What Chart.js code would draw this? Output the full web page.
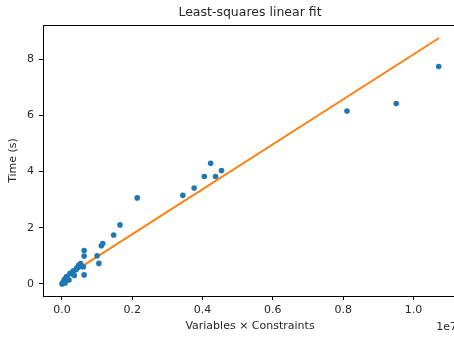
<!DOCTYPE html>
<html>
<head>
<meta charset="utf-8">
<script src="https://cdn.jsdelivr.net/npm/chart.js@4"></script>
<style>
  html, body { margin: 0; padding: 0; background: #fff; overflow: hidden; }
  #wrap { width: 454px; height: 339px; overflow: hidden; position: relative; }
  canvas { display: block; }
</style>
</head>
<body>
<div id="wrap"><canvas id="c" width="470" height="339" style="width:470px;height:339px"></canvas></div>
<script>
// Data
const sizeX = [0, 20000, 50000, 90000, 90000, 130000, 150000, 200000, 230000, 280000, 320000, 350000, 400000, 420000, 460000, 480000, 530000, 560000, 610000, 630000, 630000, 630000, 1000000, 1050000, 1120000, 1160000, 1470000, 1650000, 2140000, 3440000, 3760000, 4050000, 4230000, 4370000, 4540000, 8110000, 9510000, 10720000];
const timeY = [0.00, 0.04, 0.10, 0.03, 0.18, 0.26, 0.22, 0.14, 0.38, 0.36, 0.47, 0.30, 0.50, 0.56, 0.60, 0.67, 0.72, 0.62, 0.61, 0.32, 0.99, 1.19, 1.00, 0.73, 1.36, 1.44, 1.74, 2.10, 3.06, 3.15, 3.41, 3.82, 4.29, 3.82, 4.03, 6.15, 6.42, 7.73];
const fitX = [0, 10730000];
const fitY = [0.17, 8.75];
const xTicks = [0, 2000000, 4000000, 6000000, 8000000, 10000000];
const yTicks = [0, 2, 4, 6, 8];
const titleText = 'Least-squares linear fit';

const TXT = '#262626';
const FONT = "'DejaVu Sans', sans-serif";

const framePlugin = {
  id: 'frame',
  afterDatasetsDraw(chart) {
    const {ctx, chartArea: a} = chart;
    ctx.save();
    ctx.strokeStyle = '#000';
    ctx.lineWidth = 1;
    ctx.strokeRect(Math.round(a.left) + 0.5, Math.round(a.top) + 0.5, Math.round(a.right - a.left), Math.round(a.bottom - a.top));
    ctx.fillStyle = TXT;
    ctx.font = "11px " + FONT;
    ctx.textAlign = 'right';
    ctx.textBaseline = 'middle';
    ctx.fillText('1e7', a.right, 327);
    ctx.font = "12.5px " + FONT;
    ctx.textAlign = 'center';
    ctx.fillText(titleText, (a.left + a.right) / 2, 13);
    ctx.restore();
  }
};

new Chart(document.getElementById('c'), {
  type: 'scatter',
  data: {
    datasets: [
      {
        label: 'data',
        data: sizeX.map((x, i) => ({x, y: timeY[i]})),
        backgroundColor: '#1f77b4',
        borderColor: '#1f77b4',
        pointRadius: 2.8,
        pointBorderWidth: 0,
        order: 0
      },
      {
        type: 'line',
        label: 'fit',
        data: fitX.map((x, i) => ({x, y: fitY[i]})),
        borderColor: '#ff7f0e',
        backgroundColor: '#ff7f0e',
        borderWidth: 1.9,
        pointRadius: 0,
        showLine: true,
        fill: false,
        order: 1
      }
    ]
  },
  options: {
    responsive: false,
    devicePixelRatio: 1,
    animation: false,
    layout: { padding: { left: 0, right: 13, top: 25, bottom: 0 } },
    plugins: {
      legend: { display: false },
      tooltip: { enabled: false },
      title: { display: false }
    },
    scales: {
      x: {
        type: 'linear',
        min: -540000,
        max: 11240000,
        afterBuildTicks: s => { s.ticks = xTicks.map(v => ({value: v})); },
        afterFit: s => { s.height = 43; },
        grid: { display: true, drawOnChartArea: false, tickLength: 4, tickColor: '#000', tickWidth: 1 },
        border: { display: false },
        ticks: {
          color: TXT,
          font: { family: FONT, size: 11 },
          padding: 4,
          maxRotation: 0,
          autoSkip: false,
          callback: v => (v / 1e7).toFixed(1)
        },
        title: {
          display: true,
          text: 'Variables × Constraints',
          color: TXT,
          font: { family: FONT, size: 11 },
          padding: { top: 0, bottom: 6 }
        }
      },
      y: {
        type: 'linear',
        min: -0.43,
        max: 9.21,
        afterBuildTicks: s => { s.ticks = yTicks.map(v => ({value: v})); },
        afterFit: s => { s.width = 43; },
        grid: { display: true, drawOnChartArea: false, tickLength: 4, tickColor: '#000', tickWidth: 1 },
        border: { display: false },
        ticks: {
          color: TXT,
          font: { family: FONT, size: 11 },
          padding: 5,
          autoSkip: false,
          callback: v => String(v)
        },
        title: {
          display: true,
          text: 'Time (s)',
          color: TXT,
          font: { family: FONT, size: 11 },
          padding: { top: 7, bottom: 0 }
        }
      }
    }
  },
  plugins: [framePlugin]
});
</script>
</body>
</html>
